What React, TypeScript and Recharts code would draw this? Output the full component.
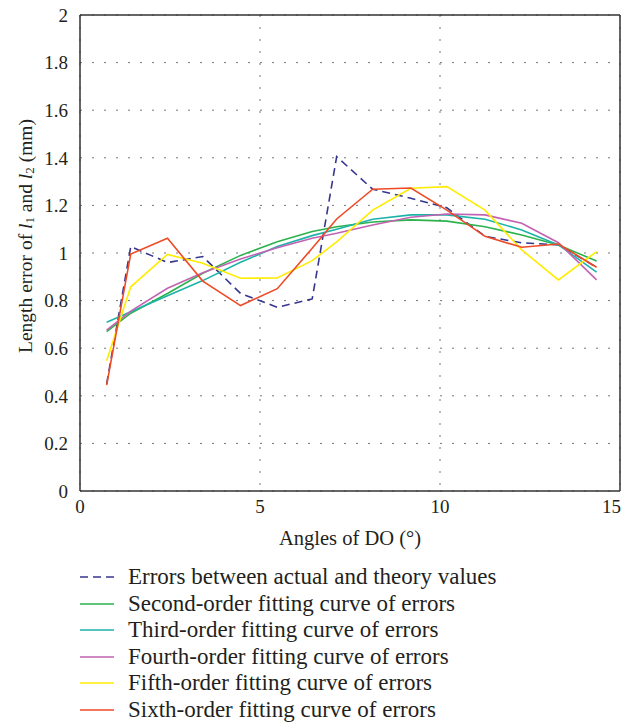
import { CartesianGrid, Line, LineChart, XAxis, YAxis } from "recharts";

// angles of DO (degrees) where each curve was evaluated
const angles = [0.74, 1.41, 2.43, 3.41, 4.46, 5.48, 6.45, 7.13, 8.13, 9.19, 10.19, 11.25, 12.27, 13.29, 14.35];

// length errors of l1 and l2 (mm)
const errors = [0.45, 1.027, 0.96, 0.985, 0.83, 0.772, 0.807, 1.405, 1.268, 1.23, 1.19, 1.07, 1.043, 1.034, 0.94];
const second = [0.67, 0.747, 0.83, 0.915, 0.99, 1.047, 1.09, 1.11, 1.13, 1.139, 1.134, 1.11, 1.076, 1.034, 0.966];
const third = [0.709, 0.753, 0.82, 0.884, 0.961, 1.027, 1.073, 1.1, 1.142, 1.16, 1.16, 1.142, 1.097, 1.034, 0.92];
const fourth = [0.676, 0.756, 0.852, 0.917, 0.975, 1.022, 1.062, 1.083, 1.118, 1.15, 1.164, 1.16, 1.125, 1.043, 0.887];
const fifth = [0.547, 0.858, 0.994, 0.957, 0.894, 0.895, 0.968, 1.047, 1.18, 1.272, 1.279, 1.18, 1.013, 0.887, 1.006];
const sixth = [0.445, 0.996, 1.062, 0.882, 0.779, 0.85, 1.02, 1.143, 1.268, 1.273, 1.18, 1.07, 1.024, 1.038, 0.94];

const xTicks = [0, 5, 10, 15];
const yTicks = [0, 0.2, 0.4, 0.6, 0.8, 1, 1.2, 1.4, 1.6, 1.8, 2];
const yMinorTicks = Array.from({ length: 41 }, (_, i) => i * 0.05);

const series = [
  { key: "errors", name: "Errors between actual and theory values", color: "#36368f", dash: "8 5" },
  { key: "second", name: "Second-order fitting curve of errors", color: "#2bb24c", dash: undefined },
  { key: "third", name: "Third-order fitting curve of errors", color: "#1db3a9", dash: undefined },
  { key: "fourth", name: "Fourth-order fitting curve of errors", color: "#c262b3", dash: undefined },
  { key: "fifth", name: "Fifth-order fitting curve of errors", color: "#ffec00", dash: undefined },
  { key: "sixth", name: "Sixth-order fitting curve of errors", color: "#ef4a26", dash: undefined },
];

const data = angles.map((a, i) => ({
  angle: a,
  errors: errors[i],
  second: second[i],
  third: third[i],
  fourth: fourth[i],
  fifth: fifth[i],
  sixth: sixth[i],
}));

const font = '"Liberation Serif", "DejaVu Serif", serif';
const ink = "#231f20";
const axisColor = "#333";

function YLabel({ viewBox }: any) {
  const cx = viewBox.x + 25;
  const cy = viewBox.y + viewBox.height / 2 - 17;
  return (
    <text
      x={cx}
      y={cy}
      transform={`rotate(-90 ${cx} ${cy})`}
      textAnchor="middle"
      dominantBaseline="central"
      fontFamily={font}
      fontSize={19.5}
      fill={ink}
    >
      Length error of <tspan fontStyle="italic">l</tspan>
      <tspan dy={4} fontSize={13}>1</tspan>
      <tspan dy={-4}> and </tspan>
      <tspan fontStyle="italic">l</tspan>
      <tspan dy={4} fontSize={13}>2</tspan>
      <tspan dy={-4}> (mm)</tspan>
    </text>
  );
}

function XTick({ x, y, payload }: any) {
  const last = payload.value === 15;
  return (
    <text
      x={last ? x + 4 : x}
      y={y + 14}
      textAnchor={last ? "end" : "middle"}
      fontFamily={font}
      fontSize={19}
      fill={ink}
    >
      {payload.value}
    </text>
  );
}

export default function App() {
  return (
    <div style={{ position: "absolute", left: 0, top: 0, width: 625, height: 722, background: "#fff", overflow: "hidden" }}>
      <style>{"html, body { margin: 0; padding: 0; overflow: hidden; }"}</style>
      <LineChart
        width={625}
        height={561}
        data={data}
        margin={{ top: 15, right: 5, bottom: 0, left: 0 }}
      >
        <CartesianGrid stroke="#777" strokeDasharray="2 10" />
        <XAxis
          dataKey="angle"
          type="number"
          domain={[0, 15]}
          ticks={xTicks}
          height={70}
          tickLine={false}
          axisLine={{ stroke: axisColor, strokeWidth: 1.5 }}
          tick={<XTick />}
          label={{
            value: "Angles of DO (°)",
            position: "insideBottom",
            offset: 16,
            style: { fontFamily: font, fontSize: 20.5, fill: ink },
          }}
        />
        <XAxis
          xAxisId="top"
          dataKey="angle"
          type="number"
          orientation="top"
          mirror
          domain={[0, 15]}
          ticks={xTicks}
          tick={false}
          tickSize={5}
          stroke={axisColor}
          axisLine={{ stroke: axisColor, strokeWidth: 1.5 }}
        />
        <XAxis
          xAxisId="bottomTicks"
          dataKey="angle"
          type="number"
          orientation="bottom"
          mirror
          domain={[0, 15]}
          ticks={xTicks}
          tick={false}
          tickSize={5}
          stroke={axisColor}
          axisLine={false}
        />
        <YAxis
          type="number"
          domain={[0, 2]}
          ticks={yTicks}
          width={80}
          tickLine={false}
          axisLine={{ stroke: axisColor, strokeWidth: 1.5 }}
          tick={{ fontFamily: font, fontSize: 19, fill: ink }}
          tickMargin={6}
          label={<YLabel />}
        />
        <YAxis
          yAxisId="leftMajor"
          type="number"
          domain={[0, 2]}
          ticks={yTicks}
          mirror
          tick={false}
          tickSize={6}
          stroke={axisColor}
          axisLine={false}
        />
        <YAxis
          yAxisId="leftMinor"
          type="number"
          domain={[0, 2]}
          ticks={yMinorTicks}
          mirror
          tick={false}
          tickSize={3}
          stroke={axisColor}
          axisLine={false}
        />
        <YAxis
          yAxisId="right"
          type="number"
          orientation="right"
          domain={[0, 2]}
          ticks={yTicks}
          mirror
          tick={false}
          tickSize={6}
          stroke={axisColor}
          axisLine={{ stroke: axisColor, strokeWidth: 1.5 }}
        />
        <YAxis
          yAxisId="rightMinor"
          type="number"
          orientation="right"
          domain={[0, 2]}
          ticks={yMinorTicks}
          mirror
          tick={false}
          tickSize={3}
          stroke={axisColor}
          axisLine={false}
        />
        {series.map((s) => (
          <Line
            key={s.key}
            dataKey={s.key}
            name={s.name}
            type="linear"
            stroke={s.color}
            strokeWidth={1.6}
            strokeDasharray={s.dash}
            dot={false}
            isAnimationActive={false}
          />
        ))}
      </LineChart>
      <div style={{ position: "absolute", left: 80, top: 564, fontFamily: font, fontSize: 23, color: ink }}>
        {series.map((s) => (
          <div key={s.key} style={{ display: "flex", alignItems: "center", height: 26.5, whiteSpace: "nowrap" }}>
            <svg width={34} height={6} style={{ marginRight: 14, flex: "none" }}>
              <line x1={0} y1={3} x2={34} y2={3} stroke={s.color} strokeWidth={1.5} strokeDasharray={s.dash} />
            </svg>
            <span>{s.name}</span>
          </div>
        ))}
      </div>
    </div>
  );
}
